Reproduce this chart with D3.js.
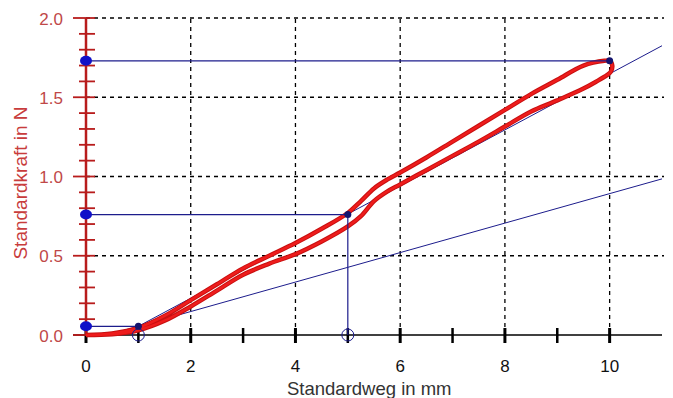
<!DOCTYPE html>
<html>
<head>
<meta charset="utf-8">
<script src="https://cdn.jsdelivr.net/npm/d3@7"></script>
<style>
  body { margin: 0; background: #fff; }
  text { font-family: "Liberation Sans", Arial, sans-serif; }
</style>
</head>
<body>
<div id="chart"></div>
<script>
// Kraft-Weg-Kurve, Hinweg (obere Kurve)
const upX = [0, 0.5, 1.0, 1.5, 2.0, 2.5, 3.0, 3.5, 4.0, 4.5, 5.0, 5.25, 5.5, 5.75, 6.0, 6.5, 7.0, 7.5, 8.0, 8.5, 9.0, 9.5, 9.9, 10.0, 10.05, 10.02, 9.95];
const upY = [0, 0.01, 0.045, 0.12, 0.22, 0.32, 0.42, 0.50, 0.58, 0.67, 0.77, 0.845, 0.925, 0.98, 1.025, 1.12, 1.22, 1.32, 1.42, 1.52, 1.61, 1.70, 1.73, 1.73, 1.70, 1.66, 1.64];
// Rueckweg (untere Kurve)
const downX = [9.75, 9.5, 9.0, 8.5, 8.0, 7.5, 7.0, 6.5, 6.0, 5.75, 5.5, 5.25, 5.0, 4.5, 4.0, 3.5, 3.0, 2.5, 2.0, 1.5, 1.0, 0.5, 0];
const downY = [1.60, 1.555, 1.48, 1.41, 1.315, 1.22, 1.13, 1.04, 0.95, 0.905, 0.845, 0.75, 0.685, 0.59, 0.51, 0.45, 0.38, 0.28, 0.18, 0.09, 0.03, 0.005, 0];

// Markierungen
const markX = [1, 5, 10];
const markY = [0.055, 0.76, 1.73];

// Geraden (Steigungen durch Punkt 1)
const slopes = [0.177, 0.093];

const xTicks = [0, 2, 4, 6, 8, 10];
const yTicks = [0, 0.5, 1.0, 1.5, 2.0];

const width = 673, height = 398;
const x = d3.scaleLinear().domain([0, 11]).range([86, 662]);
const y = d3.scaleLinear().domain([0, 2]).range([335, 18]);

const svg = d3.select("#chart").append("svg")
  .attr("width", width).attr("height", height);

svg.append("rect").attr("width", width).attr("height", height).attr("fill", "#fff");

const navy = "#1c1c8c";

// grid
svg.append("g").selectAll("line")
  .data(yTicks.filter(d => d > 0))
  .enter().append("line")
  .attr("x1", x(0)).attr("x2", 664)
  .attr("y1", d => y(d)).attr("y2", d => y(d))
  .attr("stroke", "#000").attr("stroke-width", 1.3).attr("stroke-dasharray", "4,4");

svg.append("g").selectAll("line")
  .data(xTicks.filter(d => d > 0))
  .enter().append("line")
  .attr("x1", d => x(d)).attr("x2", d => x(d))
  .attr("y1", y(0)).attr("y2", y(2))
  .attr("stroke", "#000").attr("stroke-width", 1.3).attr("stroke-dasharray", "4,4");

// x axis
svg.append("line")
  .attr("x1", 73).attr("x2", 662).attr("y1", y(0)).attr("y2", y(0))
  .attr("stroke", "#000").attr("stroke-width", 1.5);
svg.append("g").selectAll("line")
  .data(d3.range(0, 11))
  .enter().append("line")
  .attr("x1", d => x(d)).attr("x2", d => x(d))
  .attr("y1", y(0) - 7).attr("y2", y(0) + 8)
  .attr("stroke", "#000").attr("stroke-width", d => d % 2 === 0 ? 3 : 2.5);
svg.append("g").selectAll("text")
  .data(xTicks)
  .enter().append("text")
  .attr("x", d => x(d)).attr("y", 372)
  .attr("text-anchor", "middle")
  .attr("font-size", 17).attr("fill", "#111")
  .text(d => d);
svg.append("text")
  .attr("x", 287).attr("y", 395)
  .attr("font-size", 18.5).attr("fill", "#333")
  .text("Standardweg in mm");

// y axis
const red = "#b81c1c";
svg.append("line")
  .attr("x1", x(0)).attr("x2", x(0)).attr("y1", y(0) + 1).attr("y2", y(2))
  .attr("stroke", red).attr("stroke-width", 2.5);
svg.append("g").selectAll("line")
  .data(d3.range(0, 21).map(i => i / 10))
  .enter().append("line")
  .attr("x1", (d, i) => i % 5 === 0 ? 73 : 79).attr("x2", 95)
  .attr("y1", d => y(d)).attr("y2", d => y(d))
  .attr("stroke", red).attr("stroke-width", 1.8);
svg.append("g").selectAll("text")
  .data(yTicks)
  .enter().append("text")
  .attr("x", 63).attr("y", d => y(d) + 6.5)
  .attr("text-anchor", "end")
  .attr("font-size", 17).attr("fill", "#c04848")
  .text(d => d.toFixed(1));
svg.append("text")
  .attr("transform", "translate(27,183) rotate(-90)")
  .attr("text-anchor", "middle")
  .attr("font-size", 19).attr("fill", "#c83c3c")
  .text("Standardkraft in N");

// tangents
svg.append("g").selectAll("line")
  .data(slopes)
  .enter().append("line")
  .attr("x1", s => x(markX[0] - markY[0] / s)).attr("y1", y(0))
  .attr("x2", x(11)).attr("y2", s => y(markY[0] + s * (11 - markX[0])))
  .attr("stroke", navy).attr("stroke-width", 1);

// red curve
const pts = upX.map((d, i) => [d, upY[i]]).concat(downX.map((d, i) => [d, downY[i]]));
const line = d3.line().x(d => x(d[0])).y(d => y(d[1])).curve(d3.curveCatmullRom);
svg.append("path")
  .attr("d", line(pts))
  .attr("fill", "none").attr("stroke", "#c81010").attr("stroke-width", 4.5)
  .attr("stroke-linejoin", "round");
svg.append("path")
  .attr("d", line(pts))
  .attr("fill", "none").attr("stroke", "#ee1c1c").attr("stroke-width", 2.5)
  .attr("stroke-linejoin", "round");

// guide lines
svg.append("g").selectAll("line")
  .data(markX)
  .enter().append("line")
  .attr("x1", x(0)).attr("x2", d => x(d))
  .attr("y1", (d, i) => y(markY[i])).attr("y2", (d, i) => y(markY[i]))
  .attr("stroke", navy).attr("stroke-width", 1.2);
svg.append("line")
  .attr("x1", x(markX[1])).attr("x2", x(markX[1]))
  .attr("y1", y(markY[1])).attr("y2", y(0))
  .attr("stroke", navy).attr("stroke-width", 1.2);

// open circles on x axis
svg.append("g").selectAll("circle")
  .data(markX.slice(0, 2))
  .enter().append("circle")
  .attr("cx", d => x(d)).attr("cy", y(0)).attr("r", 6)
  .attr("fill", "none").attr("stroke", navy).attr("stroke-width", 1);

// dots on y axis
svg.append("g").selectAll("ellipse")
  .data(markY)
  .enter().append("ellipse")
  .attr("cx", x(0)).attr("cy", d => y(d)).attr("rx", 6).attr("ry", 5)
  .attr("fill", "#1010c8");

// small dots at points
svg.append("g").selectAll("circle")
  .data(markX)
  .enter().append("circle")
  .attr("cx", d => x(d)).attr("cy", (d, i) => y(markY[i])).attr("r", 3.5)
  .attr("fill", "#14146e");
</script>
</body>
</html>
